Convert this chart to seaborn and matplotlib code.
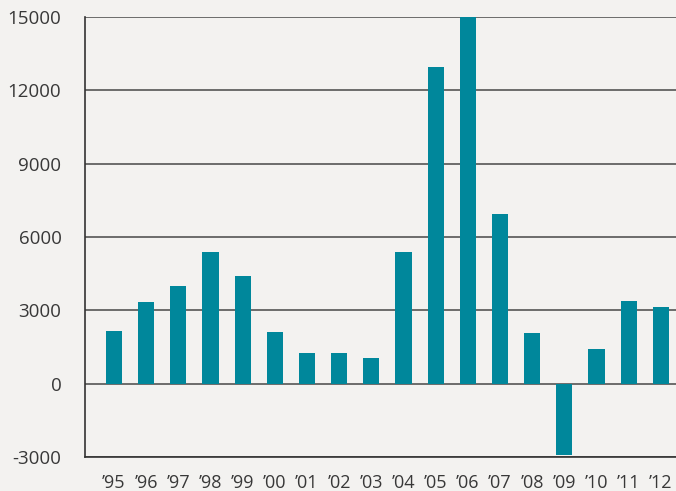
import pandas as pd
import matplotlib
matplotlib.use('Agg')
import matplotlib.pyplot as plt
import seaborn as sns

years = ['’95', '’96', '’97', '’98', '’99', '’00', '’01', '’02', '’03',
         '’04', '’05', '’06', '’07', '’08', '’09', '’10', '’11', '’12']
values = [2150, 3350, 4000, 5400, 4400, 2130, 1250, 1250, 1050,
          5400, 12950, 15050, 6950, 2060, -2900, 1400, 3400, 3150]
yticks = [-3000, 0, 3000, 6000, 9000, 12000, 15000]

bg = '#f3f2f0'
bar_colour = '#00879b'
text_colour = '#383838'

sns.set_theme(style='white')
plt.rcParams['font.family'] = ['Open Sans', 'DejaVu Sans']

df = pd.DataFrame({'year': years, 'value': values})

fig = plt.figure(figsize=(6.76, 4.91), dpi=100, facecolor=bg)
ax = fig.add_axes([85 / 676, 1 - 457 / 491, 1 - 85 / 676, (457 - 17) / 491])
ax.set_facecolor(bg)

sns.barplot(data=df, x='year', y='value', color=bar_colour, width=0.5,
            saturation=1, linewidth=0, edgecolor='none', ax=ax, zorder=3)

ax.set_ylim(-3000, 15000)
ax.set_xlim(-0.9, 17.47)
ax.set_yticks(yticks)
ax.set_yticklabels([str(v) for v in yticks])
ax.yaxis.grid(True, color='#555555', linewidth=1.2, zorder=1)
ax.set_axisbelow(True)

for side in ['top', 'right']:
    ax.spines[side].set_visible(False)
for side in ['left', 'bottom']:
    ax.spines[side].set_color('#333333')
    ax.spines[side].set_linewidth(1.2)

ax.tick_params(axis='y', length=0, pad=17, labelsize=13.5, labelcolor=text_colour)
ax.tick_params(axis='x', length=0, pad=12, labelsize=13, labelcolor=text_colour)
ax.set_xlabel('')
ax.set_ylabel('')

fig.savefig('out.png', dpi=100, facecolor=bg)
